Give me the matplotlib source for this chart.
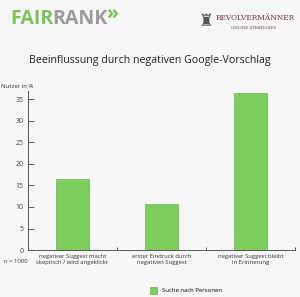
import numpy as np
import matplotlib.pyplot as plt

# data
categories = ["negativer Suggest macht\nskeptisch / wird angeklickt",
              "erster Eindruck durch\nnegativen Suggest",
              "negativer Suggest bleibt\nin Erinnerung"]
values = [16.4, 10.7, 36.5]
yticks = [0, 5, 10, 15, 20, 25, 30, 35]

bg = "#f7f7f7"
green = "#7dce5f"

plt.rcParams['font.family'] = ['Open Sans', 'DejaVu Sans']

fig = plt.figure(figsize=(3.0, 2.97), dpi=100, facecolor=bg)
ax = fig.add_axes([0.093, 0.158, 0.89, 0.537], facecolor=bg)

x = np.arange(len(values)) + 0.5
ax.bar(x, values, width=0.37, color=green, edgecolor="#6cb552", linewidth=0.5,
       label="Suche nach Personen")

ax.set_xlim(0, 3)
ax.set_ylim(0, 37)
ax.set_yticks(yticks)
ax.set_xticks(x)
ax.set_xticklabels(categories, fontsize=4.2, color="#333333", linespacing=1.3)
ax.set_xticks([1, 2, 3], minor=True)
ax.tick_params(axis='x', which='major', length=0, pad=3)
ax.tick_params(axis='x', which='minor', direction='in', length=2.5, width=0.6, color="#444444")
ax.tick_params(axis='y', direction='in', length=4, width=0.6, labelsize=5,
               colors="#444444", pad=3)
for s in ['top', 'right']:
    ax.spines[s].set_visible(False)
for s in ['left', 'bottom']:
    ax.spines[s].set_linewidth(0.7)
    ax.spines[s].set_color("#555555")

# texts
fig.text(0.5, 0.795, "Beeinflussung durch negativen Google-Vorschlag",
         ha='center', va='center', fontsize=7.7, color="#222222")
fig.text(0.003, 0.71, "Nutzer in %", fontsize=4.3, color="#333333", va='center')
fig.text(0.013, 0.118, "n = 1000", fontsize=4.3, color="#333333", va='center')

# logos as text
fair = fig.text(0.033, 0.935, "FAIR", fontsize=14, fontweight='bold', color="#7cc35a",
                va='center')
rank = fig.text(0, 0, "RANK", fontsize=14, fontweight='bold', color="#9a9a9a",
                va='center', transform=fig.transFigure)
fig.canvas.draw()
r = fig.canvas.get_renderer()
bb = fair.get_window_extent(r).transformed(fig.transFigure.inverted())
rank.set_position((bb.x1 - 0.004, 0.935))
bb2 = rank.get_window_extent(r).transformed(fig.transFigure.inverted())
fig.text(bb2.x1 - 0.003, 0.95, "»", fontsize=14, fontweight='bold', color="#7cc35a",
         va='center')
fig.text(0.718, 0.94, "REVOLVERMÄNNER", fontsize=5.3, family='DejaVu Serif',
         color="#6b3a3a", va='center')
fig.text(0.77, 0.905, "ONLINE STRATEGIES", fontsize=2.8, family='DejaVu Serif',
         color="#6b3a3a", va='center')
fig.text(0.687, 0.93, "♜", fontsize=12, color="#555555", va='center', ha='center',
         family='DejaVu Sans')

leg = fig.legend(loc='center', bbox_to_anchor=(0.62, 0.022), frameon=False,
                 fontsize=4.3, handlelength=1.2, handleheight=1.2)

fig.savefig("out.png", dpi=100, facecolor=bg)
